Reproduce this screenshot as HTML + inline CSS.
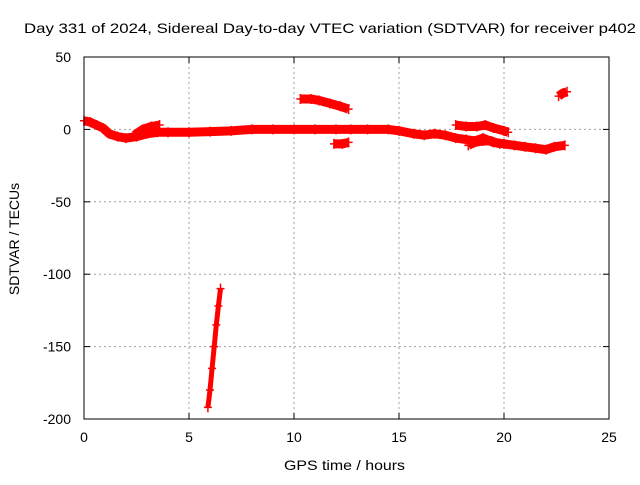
<!DOCTYPE html>
<html><head><meta charset="utf-8"><style>
body{margin:0;background:#fff}
svg text{font-family:"Liberation Sans",sans-serif;font-size:14px;fill:#000}
</style></head><body>
<svg width="640" height="480" id="c">
<text x="24" y="33" textLength="612" lengthAdjust="spacingAndGlyphs">Day 331 of 2024, Sidereal Day-to-day VTEC variation (SDTVAR) for receiver p402</text>
<text x="284" y="470" textLength="121" lengthAdjust="spacingAndGlyphs">GPS time / hours</text>
<text transform="translate(19,239) rotate(-90)" text-anchor="middle">SDTVAR / TECUs</text>
<g id="grid"></g>
<g id="ticks"></g>
<g id="marks"></g>
<rect x="84" y="57" width="525" height="362" fill="none" stroke="#000"/>
</svg>
<script>
const xTicks=[0,5,10,15,20,25];
const yTicks=[50,0,-50,-100,-150,-200];
const segMain=[[0,6],[0.3,5],[0.6,3],[0.9,1],[1.2,-3],[1.6,-5],[2,-6],[2.5,-5],[3,-3],[3.5,-2],[4,-2],[5,-2],[6,-1.5],[7,-1],[8,0],[9,0],[10,0],[11,0],[12,0],[12.7,0],[13.5,0],[14.5,0],[15,-1],[15.7,-3],[16.2,-4],[16.7,-3],[17.2,-4],[17.7,-6],[18.2,-7],[18.6,-8],[19,-6],[19.5,-9],[20,-10],[20.5,-11],[21,-12],[21.5,-13],[22,-14],[22.4,-12],[22.9,-11]];
const segUpper=[[2.4,-4],[2.8,0],[3.2,2],[3.6,3]];
const segHigh=[[10.3,21],[10.8,21],[11.2,20],[11.7,18],[12.2,16],[12.6,14]];
const segLow=[[11.9,-10],[12.3,-10],[12.6,-9]];
const segMid=[[17.7,3],[18.2,2],[18.7,2],[19.1,3],[19.5,1],[20,-1],[20.2,-2]];
const segLow2=[[18.3,-11],[18.6,-9],[19,-8],[19.4,-8],[19.8,-10]];
const segEnd=[[22.6,23],[22.8,25],[23,26]];
const segDrop=[[5.9,-192],[6,-180],[6.1,-165],[6.2,-150],[6.3,-135],[6.4,-122],[6.5,-110]];
const series=[segMain,segUpper,segHigh,segLow,segMid,segLow2,segEnd,segDrop];
const X=t=>84+t*21, Y=v=>57+(50-v)*1.448;
const ns="http://www.w3.org/2000/svg";
function mk(tag,a,p){const e=document.createElementNS(ns,tag);for(const k in a)e.setAttribute(k,a[k]);p.appendChild(e);return e;}
const g=document.getElementById('grid'),tk=document.getElementById('ticks'),m=document.getElementById('marks');
xTicks.forEach(t=>{
 if(t>0&&t<25){const l=mk('line',{x1:X(t),x2:X(t),y1:57,y2:419,stroke:'#a0a0a0','stroke-dasharray':'2,3'},g);}
 const s=mk('text',{x:X(t),y:442,'text-anchor':'middle'},tk);s.textContent=t;
 
 mk('line',{x1:X(t),x2:X(t),y1:419,y2:413,stroke:'#000'},tk);mk('line',{x1:X(t),x2:X(t),y1:57,y2:63,stroke:'#000'},tk);
});
yTicks.forEach(v=>{
 if(v<50&&v>-200){const l=mk('line',{x1:84,x2:609,y1:Y(v),y2:Y(v),stroke:'#a0a0a0','stroke-dasharray':'2,3'},g);}
 const s=mk('text',{x:71,y:Y(v)+5,'text-anchor':'end'},tk);s.textContent=v;
 
 mk('line',{x1:84,x2:90,y1:Y(v),y2:Y(v),stroke:'#000'},tk);mk('line',{x1:609,x2:603,y1:Y(v),y2:Y(v),stroke:'#000'},tk);
});
series.forEach(seg=>{
 const pl=mk('polyline',{points:seg.map(p=>X(p[0])+','+Y(p[1])).join(' '),fill:'none',stroke:'red','stroke-width':seg===segDrop?5:9,'stroke-linejoin':'round'},m);
 
 seg.forEach(p=>{
  const pa=mk('path',{d:`M${X(p[0])-4},${Y(p[1])}h8M${X(p[0])},${Y(p[1])-5}v10`,stroke:'red','stroke-width':1.5},m);
  
 });
});
</script>
</body></html>
